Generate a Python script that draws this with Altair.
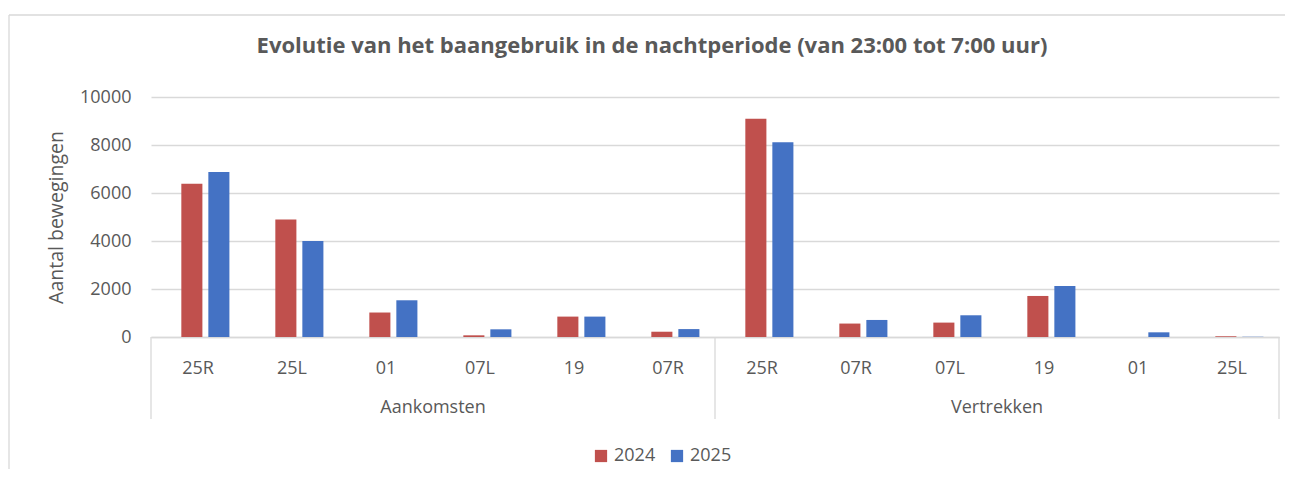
import altair as alt
import pandas as pd

groups = ["Aankomsten", "Vertrekken"]
runways_arr = ["25R", "25L", "01", "07L", "19", "07R"]
runways_dep = ["25R", "07R", "07L", "19", "01", "25L"]
arr_2024 = [6390, 4900, 1020, 70, 850, 220]
arr_2025 = [6870, 4000, 1530, 320, 850, 330]
dep_2024 = [9090, 560, 600, 1710, 0, 30]
dep_2025 = [8110, 710, 905, 2120, 195, 10]
years = ["2024", "2025"]
colors = ["#C0504D", "#4472C4"]

rows = []
keys = []
for g, rws, a, b in [(groups[0], runways_arr, arr_2024, arr_2025),
                     (groups[1], runways_dep, dep_2024, dep_2025)]:
    for r, v1, v2 in zip(rws, a, b):
        k = g + "|" + r
        keys.append(k)
        rows.append({"key": k, "groep": g, "jaar": years[0], "waarde": v1})
        rows.append({"key": k, "groep": g, "jaar": years[1], "waarde": v2})
df = pd.DataFrame(rows)

# group boundaries / centres (by category key)
grp_first = pd.DataFrame({"key": [groups[0] + "|" + runways_arr[0], groups[1] + "|" + runways_dep[0]]})
grp_last = pd.DataFrame({"key": [groups[1] + "|" + runways_dep[-1]]})
grp_mid = pd.DataFrame({"key": [groups[0] + "|" + runways_arr[2], groups[1] + "|" + runways_dep[2]],
                        "groep": groups})
one = pd.DataFrame({"n": [1]})

FONT = "Open Sans"
GREY = "#595959"
LINE = "#D9D9D9"
W = 1128
H = 240

xscale = alt.Scale(domain=keys, paddingInner=0, paddingOuter=0)

bars = alt.Chart(df).mark_bar(width=alt.RelativeBandSize(0.78)).encode(
    x=alt.X("key:N", scale=xscale,
            axis=alt.Axis(title=None, labelAngle=0, ticks=False, labelPadding=22,
                          labelExpr="split(datum.label, '|')[1]",
                          domainColor=LINE, domainWidth=1.3, labelColor=GREY,
                          labelFontSize=18, labelFont=FONT)),
    xOffset=alt.XOffset("jaar:N", scale=alt.Scale(domain=years, paddingInner=0, paddingOuter=0.74)),
    y=alt.Y("waarde:Q", scale=alt.Scale(domain=[0, 10000]),
            axis=alt.Axis(title="Aantal bewegingen", values=[0, 2000, 4000, 6000, 8000, 10000],
                          format="d", ticks=False, domain=False, labelPadding=20, titlePadding=13,
                          gridColor=LINE, gridWidth=1.3,
                          labelColor=GREY, labelFontSize=18, labelFont=FONT,
                          titleColor=GREY, titleFontSize=19.5, titleFont=FONT,
                          titleFontWeight="normal")),
    color=alt.Color("jaar:N", scale=alt.Scale(domain=years, range=colors),
                    legend=alt.Legend(title=None, orient="none", direction="horizontal",
                                      legendX=441, legendY=350,
                                      symbolType="square", symbolSize=150,
                                      labelFontSize=18, labelFont=FONT, labelColor=GREY,
                                      symbolStrokeWidth=0, columnPadding=12, labelOffset=4)),
)

seps_left = alt.Chart(grp_first).mark_rule(color=LINE, strokeWidth=1.3).encode(
    x=alt.X("key:N", scale=xscale, bandPosition=0),
    y=alt.value(H), y2=alt.value(H + 82),
)
seps_right = alt.Chart(grp_last).mark_rule(color=LINE, strokeWidth=1.3).encode(
    x=alt.X("key:N", scale=xscale, bandPosition=1),
    y=alt.value(H), y2=alt.value(H + 82),
)
grp_labels = alt.Chart(grp_mid).mark_text(
    font=FONT, fontSize=18, color=GREY, baseline="middle"
).encode(
    x=alt.X("key:N", scale=xscale, bandPosition=1),
    y=alt.value(H + 71),
    text="groep:N",
)

# outer chart frame (top and left edges, as in the reference)
frame_top = alt.Chart(one).mark_rule(color=LINE, strokeWidth=1.3).encode(
    x=alt.value(-142), x2=alt.value(W + 6), y=alt.value(-82),
)
frame_left = alt.Chart(one).mark_rule(color=LINE, strokeWidth=1.3).encode(
    x=alt.value(-142), y=alt.value(-82), y2=alt.value(H + 132),
)

chart = alt.layer(bars, seps_left, seps_right, grp_labels, frame_top, frame_left).properties(
    width=W, height=H,
    title=alt.TitleParams("Evolutie van het baangebruik in de nachtperiode (van 23:00 tot 7:00 uur)",
                          font=FONT, fontSize=22, fontWeight="bold", color=GREY,
                          anchor="middle", frame="group", dx=-63, offset=-44),
    padding={"left": 0, "top": 6, "right": 0, "bottom": 0},
).configure_view(stroke=None)

chart.save("out.html", embed_options={"renderer": "svg", "actions": False})
